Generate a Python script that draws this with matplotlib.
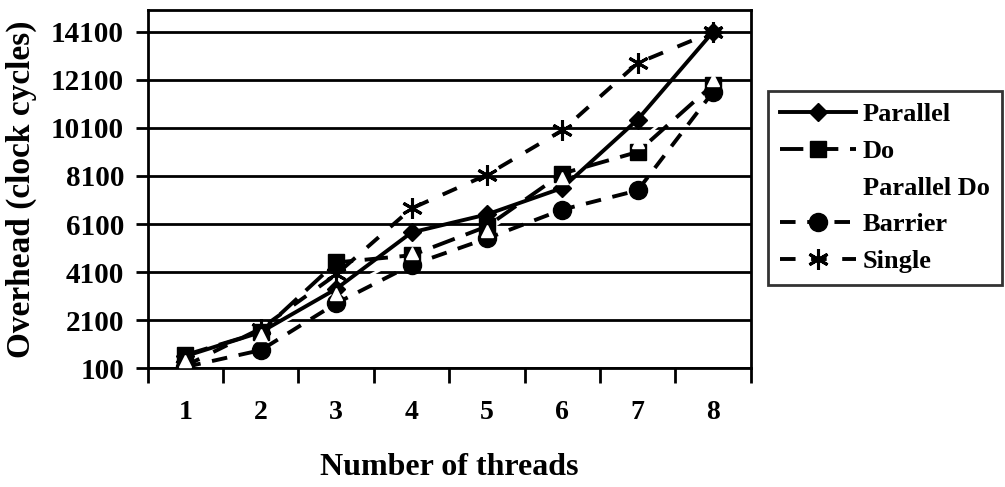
import matplotlib
matplotlib.use("Agg")
import matplotlib.pyplot as plt
import numpy as np

threads = [1, 2, 3, 4, 5, 6, 7, 8]
y_ticks = [100, 2100, 4100, 6100, 8100, 10100, 12100, 14100]

parallel = [600, 1600, 3400, 5750, 6500, 7600, 10450, 14100]
do = [650, 1600, 4500, 4800, 6000, 8200, 9100, 11900]
parallel_do = [400, 1500, 3200, 4900, 5800, 8000, 9500, 12100]
barrier = [150, 850, 2800, 4400, 5500, 6700, 7500, 11600]
single = [200, 1750, 4000, 6750, 8150, 10000, 12800, 14100]

plt.rcParams['font.family'] = ['Liberation Serif', 'DejaVu Serif']
plt.rcParams['font.weight'] = 'bold'

fig = plt.figure(figsize=(10.05, 4.87), dpi=100)
ax = fig.add_axes([0.147, 0.244, 0.600, 0.735])

for yv in y_ticks:
    ax.axhline(yv, color='black', lw=2.0, zorder=1)

lw = 2.8
ax.plot(threads, parallel_do, color='white', lw=2.0, marker='^', ms=10,
        mfc='white', mec='white', label='Parallel Do', zorder=2)
ax.plot(threads, parallel_do, ls='none', marker='^', ms=8,
        mfc='white', mec='white', zorder=6)
ax.plot(threads, barrier, color='black', lw=lw, ls=(0, (4, 3)), marker='o', ms=13,
        label='Barrier', zorder=3)
ax.plot(threads, do, color='black', lw=lw, ls=(0, (6, 3)), marker='s', ms=12,
        label='Do', zorder=3)
ax.plot(threads, single, color='black', lw=lw, ls=(0, (4, 4)), marker=(6, 2, 0), ms=15,
        mew=2.2, label='Single', zorder=3)
ax.plot(threads, parallel, color='black', lw=lw, ls='-', marker='D', ms=9,
        label='Parallel', zorder=4)

ax.set_xlim(0.5, 8.5)
ax.set_ylim(100, 15000)
ax.set_yticks(y_ticks)
ax.set_yticklabels([str(v) for v in y_ticks], fontsize=21, fontweight='bold')
ax.set_xticks(threads)
ax.set_xticklabels([str(t) for t in threads], fontsize=20, fontweight='bold')
ax.set_xticks(np.arange(0.5, 9.0, 1.0), minor=True)
ax.tick_params(axis='x', which='major', length=0, pad=23)
ax.tick_params(axis='x', which='minor', length=11, width=2, direction='out')
ax.tick_params(axis='y', which='major', length=9, width=2, direction='out', pad=8)

for s in ax.spines.values():
    s.set_linewidth(2)
    s.set_color('black')

ax.set_ylabel('Overhead (clock cycles)', fontsize=24, fontweight='bold', labelpad=10)
ax.set_xlabel('Number of threads', fontsize=23, fontweight='bold', labelpad=20)

handles, labels = ax.get_legend_handles_labels()
order = ['Parallel', 'Do', 'Parallel Do', 'Barrier', 'Single']
hmap = dict(zip(labels, handles))
leg = fig.legend([hmap[k] for k in order], order, loc='upper left',
                 bbox_to_anchor=(0.764, 0.813), frameon=True, fancybox=False,
                 edgecolor='black', prop={'size': 19, 'weight': 'bold'},
                 handlelength=2.9, handletextpad=0.25, labelspacing=0.5,
                 borderpad=0.45, borderaxespad=0)
leg.get_frame().set_linewidth(2)

fig.savefig('out.png', dpi=100, facecolor='white')
